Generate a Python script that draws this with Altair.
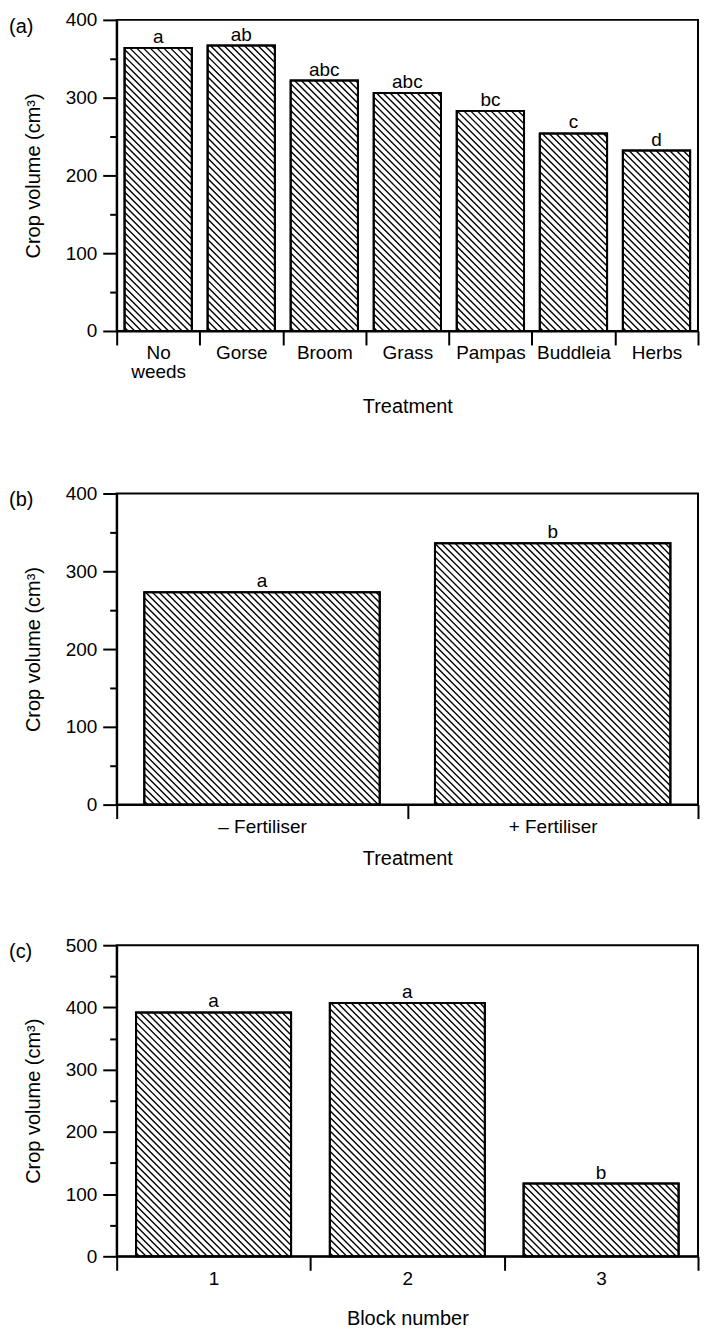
import altair as alt
import pandas as pd

FONT = "Liberation Sans"

# ---- data ----
a_treatments = ["No weeds", "Gorse", "Broom", "Grass", "Pampas", "Buddleia", "Herbs"]
a_volumes = [364, 367, 322, 306, 283, 254, 232]
a_letters = ["a", "ab", "abc", "abc", "bc", "c", "d"]

b_treatments = ["– Fertiliser", "+ Fertiliser"]
b_volumes = [273, 336]
b_letters = ["a", "b"]

c_blocks = ["1", "2", "3"]
c_volumes = [392, 407, 117]
c_letters = ["a", "a", "b"]

PLOT_W = 583
PLOT_H = 312
HATCH_STEP = 6.8  # horizontal spacing of hatch lines, px


def panel(tag, cats, vals, letters, ymax, xtitle, bar_frac, title_pad, multiline=False):
    df = pd.DataFrame({"cat": cats, "vol": vals, "letter": letters})
    n = len(cats)
    base = alt.Chart(df)

    yscale = alt.Scale(domain=[0, ymax], nice=False)
    yaxis = alt.Axis(
        values=list(range(0, ymax + 1, 50)),
        labelExpr="datum.value % 100 == 0 ? datum.label : ''",
        tickSize={"condition": {"test": "datum.value % 100 == 0", "value": 14}, "value": 7},
        title="Crop volume (cm³)",
        titlePadding=22,
        labelPadding=6,
        grid=False,
    )
    xscale = alt.Scale(paddingInner=0, paddingOuter=0)
    xkw = dict(
        title=xtitle,
        tickBand="extent",
        labelAngle=0,
        tickSize=14,
        labelPadding=-1,
        titlePadding=title_pad,
        labelLineHeight=19,
        grid=False,
    )
    if multiline:
        xkw["labelExpr"] = "split(datum.label, ' ')"
    xaxis = alt.Axis(**xkw)

    bar_w = alt.RelativeBandSize(bar_frac)

    fill = base.mark_bar(width=bar_w, fill="white", stroke="black", strokeWidth=2).encode(
        x=alt.X("cat:N", sort=cats, scale=xscale, axis=xaxis),
        y=alt.Y("vol:Q", scale=yscale, axis=yaxis),
    )

    off = (1 - bar_frac) / 2
    hatch = (
        base.transform_window(idx="row_number()")
        .transform_calculate(
            bw=f"{bar_frac * PLOT_W / n}",
            bh=f"datum.vol * {PLOT_H / ymax}",
        )
        .transform_calculate(ks=f"sequence(0, ceil((datum.bw + datum.bh) / {HATCH_STEP}))")
        .transform_flatten(["ks"], as_=["k"])
        .transform_calculate(c=f"(datum.k + 0.5) * {HATCH_STEP}")
        .transform_filter("datum.c < datum.bw + datum.bh")
        .transform_calculate(
            ua="max(0, datum.c - datum.bh)",
            ub="min(datum.bw, datum.c)",
        )
        .transform_calculate(
            hx1=f"datum.idx - 1 + {off} + datum.ua * {n / PLOT_W}",
            hy1=f"(datum.c - datum.ua) * {ymax / PLOT_H}",
            hx2=f"datum.idx - 1 + {off} + datum.ub * {n / PLOT_W}",
            hy2=f"(datum.c - datum.ub) * {ymax / PLOT_H}",
        )
        .mark_rule(color="black", strokeWidth=1.4)
        .encode(
            x=alt.X("hx1:Q", scale=alt.Scale(domain=[0, n], nice=False, zero=False), axis=None),
            x2="hx2:Q",
            y=alt.Y("hy1:Q", scale=yscale, axis=yaxis),
            y2="hy2:Q",
        )
    )

    outline = base.mark_bar(width=bar_w, fillOpacity=0, stroke="black", strokeWidth=2).encode(
        x=alt.X("cat:N", sort=cats, scale=xscale, axis=None),
        y=alt.Y("vol:Q", scale=yscale, axis=yaxis),
    )

    text = base.mark_text(baseline="alphabetic", dy=-5, fontSize=19, font=FONT, color="black").encode(
        x=alt.X("cat:N", sort=cats, scale=xscale, axis=None),
        y=alt.Y("vol:Q", scale=yscale, axis=yaxis),
        text="letter:N",
    )

    return (
        alt.layer(fill, hatch, outline, text)
        .resolve_scale(x="independent")
        .properties(
            width=PLOT_W,
            height=PLOT_H,
            title=alt.TitleParams(
                text=tag,
                anchor="start",
                frame="group",
                orient="top",
                offset=-26,
                dx=-108,
                fontSize=20,
                font=FONT,
                fontWeight="normal",
                color="black",
            ),
        )
    )


pa = panel("(a)", a_treatments, a_volumes, a_letters, 400, "Treatment", 0.81, 15, multiline=True)
pb = panel("(b)", b_treatments, b_volumes, b_letters, 400, "Treatment", 0.81, 12)
pc = panel("(c)", c_blocks, c_volumes, c_letters, 500, "Block number", 0.80, 20)

chart = (
    alt.vconcat(pa, pb, pc, spacing=66)
    .properties(padding={"left": 0, "top": 0, "right": 0, "bottom": 0})
    .configure_view(stroke="black", strokeWidth=2)
    .configure_axis(
        domainColor="black",
        domainWidth=2,
        tickColor="black",
        tickWidth=2,
        labelFont=FONT,
        labelFontSize=19,
        labelColor="black",
        titleFont=FONT,
        titleFontSize=20,
        titleFontWeight="normal",
        titleColor="black",
    )
)

chart.save("out.html", embed_options={"renderer": "svg", "actions": False})
